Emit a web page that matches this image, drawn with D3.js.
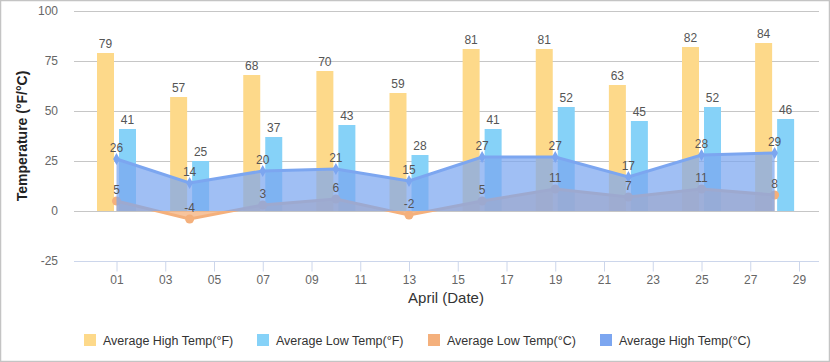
<!DOCTYPE html>
<html><head><meta charset="utf-8">
<script src="https://cdn.jsdelivr.net/npm/d3@7/dist/d3.min.js"></script>
<style>
html,body{margin:0;padding:0;background:#fff;}
svg{display:block;font-family:"Liberation Sans",Arial,sans-serif;}
</style></head>
<body><svg id="c" width="830" height="362"></svg>
<script>
const days = [1,4,7,10,13,16,19,22,25,28];
const highF = [79,57,68,70,59,81,81,63,82,84];
const lowF  = [41,25,37,43,28,41,52,45,52,46];
const lowC  = [5,-4,3,6,-2,5,11,7,11,8];
const highC = [26,14,20,21,15,27,27,17,28,29];
const xTicks = [1,3,5,7,9,11,13,15,17,19,21,23,25,27,29];
const yTicks = [-25,0,25,50,75,100];
const seriesNames = ["Average High Temp(°F)","Average Low Temp(°F)","Average Low Temp(°C)","Average High Temp(°C)"];
const colors = ["#FDD98A","#86D2F8","#F4B07C","#7CA6F0"];

const svg = d3.select("#c");
svg.append("rect").attr("x",0.5).attr("y",0.5).attr("width",829).attr("height",361)
  .attr("fill","#fff").attr("stroke","#c4c4c4").attr("stroke-width",1.5);

const plotL = 74, plotR = 819;
const x = d3.scaleLinear().domain([1,29]).range([116.5,799]);
const y = d3.scaleLinear().domain([-25,100]).range([261,11]);

// grid
svg.append("g").selectAll("line").data(yTicks.filter(v=>v>-25)).join("line")
  .attr("x1",plotL).attr("x2",plotR).attr("y1",d=>y(d)+0.5).attr("y2",d=>y(d)+0.5)
  .attr("stroke","#c6c6c6").attr("stroke-width",1);

// y axis labels
const ya = svg.append("g").attr("transform",`translate(${plotL-16},0)`)
  .call(d3.axisLeft(y).tickValues(yTicks).tickSize(0).tickPadding(0).tickFormat(d=>String(d)));
ya.select(".domain").remove();
ya.selectAll("text").attr("font-size",12).attr("fill","#666").attr("font-family","Liberation Sans, Arial");

// x axis
const xa = svg.append("g").attr("transform",`translate(0,${y(-25)+0.5})`)
  .call(d3.axisBottom(x).tickValues(xTicks).tickSize(10).tickPadding(4).tickFormat(d=>String(d).padStart(2,"0")));
xa.select(".domain").attr("d",`M${plotL},0H${plotR}`).attr("stroke","#ccd6eb");
xa.selectAll(".tick line").attr("stroke","#ccd6eb");
xa.selectAll("text").attr("font-size",12).attr("fill","#666").attr("font-family","Liberation Sans, Arial");

// columns
const bw = 17, off = 11;
svg.append("g").selectAll("rect").data(days).join("rect")
  .attr("x",(d,i)=>x(d)-off-bw/2).attr("width",bw)
  .attr("y",(d,i)=>y(highF[i])).attr("height",(d,i)=>y(0)-y(highF[i]))
  .attr("fill",colors[0]);
svg.append("g").selectAll("rect").data(days).join("rect")
  .attr("x",(d,i)=>x(d)+off-bw/2).attr("width",bw)
  .attr("y",(d,i)=>y(lowF[i])).attr("height",(d,i)=>y(0)-y(lowF[i]))
  .attr("fill",colors[1]);

// areas
function drawArea(vals, col, fillOp){
  const pts = days.map((d,i)=>[d,vals[i]]);
  const area = d3.area().x(p=>x(p[0])).y0(y(0)).y1(p=>y(p[1]));
  const line = d3.line().x(p=>x(p[0])).y(p=>y(p[1]));
  svg.append("path").datum(pts).attr("d",area).attr("fill",col).attr("fill-opacity",fillOp);
  svg.append("path").datum(pts).attr("d",line).attr("fill","none").attr("stroke",col).attr("stroke-width",3);
  return pts;
}
const lowPts = drawArea(lowC, colors[2], 0.75);
svg.append("g").selectAll("circle").data(lowPts).join("circle")
  .attr("cx",p=>x(p[0])).attr("cy",p=>y(p[1])).attr("r",4.5).attr("fill",colors[2]);
const highPts = drawArea(highC, colors[3], 0.72);
svg.append("g").selectAll("path").data(highPts).join("path")
  .attr("d",d3.symbol().type(d3.symbolDiamond).size(40))
  .attr("transform",p=>`translate(${x(p[0])},${y(p[1])})`).attr("fill",colors[3]);

// data labels
const lab = svg.append("g").attr("font-size",12).attr("fill","#555").attr("text-anchor","middle");
days.forEach((d,i)=>{
  lab.append("text").attr("x",x(d)-off).attr("y",y(highF[i])-5).text(highF[i]);
  lab.append("text").attr("x",x(d)+off).attr("y",y(lowF[i])-5).text(lowF[i]);
  lab.append("text").attr("x",x(d)).attr("y",y(lowC[i])-7).text(lowC[i]);
  lab.append("text").attr("x",x(d)).attr("y",y(highC[i])-7).text(highC[i]);
});

// axis titles
svg.append("text").attr("x",446).attr("y",303).attr("text-anchor","middle")
  .attr("font-size",15).attr("fill","#333").text("April (Date)");
svg.append("text").attr("transform","translate(27,136) rotate(-90)").attr("text-anchor","middle")
  .attr("font-size",14).attr("font-weight","bold").attr("fill","#222").text("Temperature (°F/°C)");

// legend
const legX = [84,257,428,600];
const lg = svg.append("g");
seriesNames.forEach((n,i)=>{
  lg.append("rect").attr("x",legX[i]).attr("y",334).attr("width",12).attr("height",12).attr("fill",colors[i]);
  lg.append("text").attr("x",legX[i]+19).attr("y",345).attr("font-size",12.5).attr("fill","#333").text(n);
});
</script></body></html>
